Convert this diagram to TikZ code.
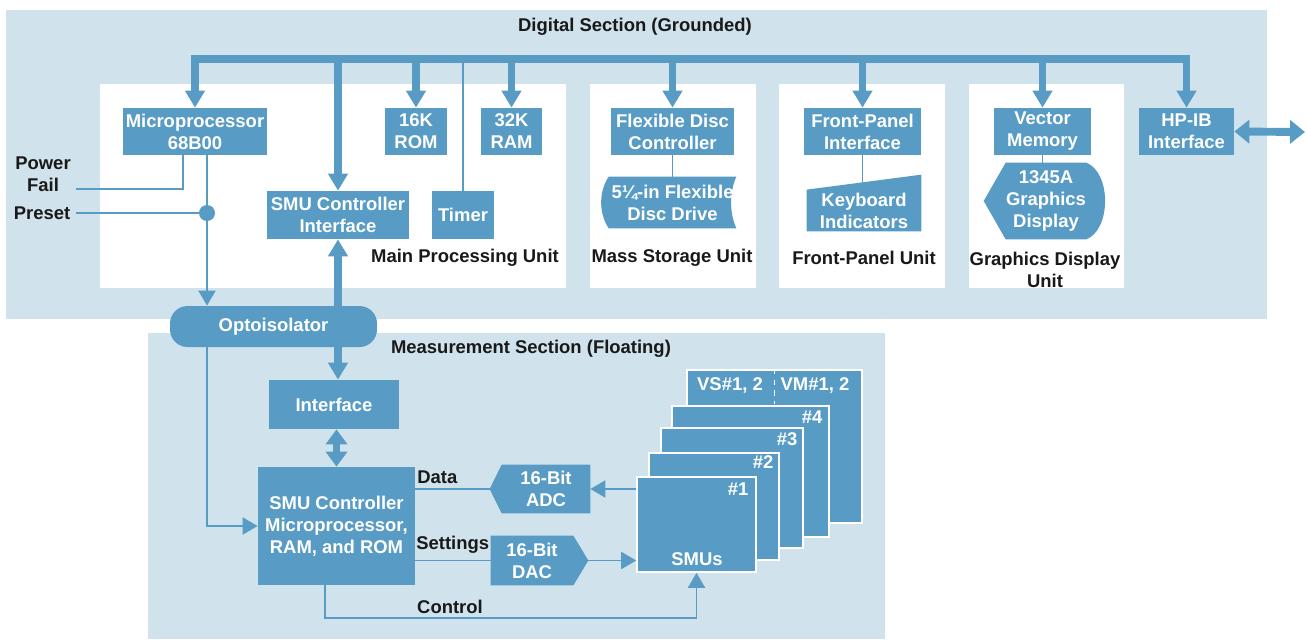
\documentclass[tikz,border=0pt]{standalone}
\usepackage{fontspec}
\setmainfont{Liberation Sans}
\usetikzlibrary{arrows.meta}
\definecolor{boxblue}{RGB}{88,156,197}
\definecolor{bglight}{RGB}{208,226,236}
\definecolor{ink}{RGB}{25,25,25}
\pgfdeclarelayer{back}
\pgfdeclarelayer{lines}
\pgfdeclarelayer{shapes}
\pgfsetlayers{back,lines,shapes,main}
\tikzset{
  sz/.style 2 args={minimum width=#1*0.02cm, minimum height=#2*0.02cm},
  box/.style={fill=boxblue, text=white, align=center, inner sep=0pt},
  wtext/.style={text=white, align=center, inner sep=0pt},
  lbl/.style={text=ink, align=center, inner sep=0pt},
  smubox/.style={fill=boxblue, draw=white, line width=0.9pt, inner sep=0pt},
  bushead/.tip={Triangle[width=0.38cm,length=0.34cm]},
  wirehead/.tip={Triangle[width=0.34cm,length=0.3cm]},
  dblhead/.tip={Triangle[width=0.46cm,length=0.3cm]},
  bus/.style={draw=boxblue, line width=4.5pt},
  busarrow/.style={bus, -{bushead}},
  wire/.style={draw=boxblue, line width=1.1pt},
  wirearrow/.style={wire, -{wirehead}},
}
\begin{document}
\begin{tikzpicture}[x=0.02cm,y=-0.02cm, font=\fontsize{10.5}{12.5}\selectfont\bfseries]
\useasboundingbox (0,0) rectangle (1307,639);
\begin{pgfonlayer}{back}
  \fill[bglight] (6,10) rectangle (1267,319);
  \fill[bglight] (148,333) rectangle (885,639);
  \fill[white] (100,84) rectangle (566,288);
  \fill[white] (590,84) rectangle (756,288);
  \fill[white] (779,84) rectangle (945,288);
  \fill[white] (969,84) rectangle (1124,288);
\end{pgfonlayer}

% titles
\node[lbl] (dtitle) at (635,27) {Digital Section (Grounded)};
\node[lbl] (mtitle) at (531,349) {Measurement Section (Floating)};

% digital section boxes
\node[box, sz={144}{47}] (micro) at (195,131.5) {Microprocessor\\68B00};
\node[box, sz={62}{47}] (rom) at (416,131.5) {16K\\ROM};
\node[box, sz={61}{47}] (ram) at (511.5,131.5) {32K\\RAM};
\node[box, sz={142}{48}] (smuci) at (338,215) {SMU Controller\\Interface};
\node[box, sz={62}{48}] (timer) at (463,215) {Timer};
\node[box, sz={123}{47}] (fdc) at (672.5,131.5) {Flexible Disc\\Controller};
\node[wtext, sz={127}{51}] (drive) at (672.5,202.5) {5¼-in Flexible\\Disc Drive};
\node[box, sz={117}{47}] (fpi) at (862.5,131.5) {Front-Panel\\Interface};
\node[wtext, sz={114}{41}] (kbd) at (864,210.5) {Keyboard\\Indicators};
\node[box, sz={97}{47}] (vm) at (1042.5,131.5) {Vector\\Memory};
\node[wtext, sz={74}{76}] (disp) at (1046,201) {1345A\\Graphics\\Display};
\node[box, sz={95}{47}] (hpib) at (1186.5,131.5) {HP-IB\\Interface};

\node[lbl] (mpu) at (465,258) {Main Processing Unit};
\node[lbl] (msu) at (672,258) {Mass Storage Unit};
\node[lbl] (fpu) at (864,258) {Front-Panel Unit};
\node[lbl] (gdu) at (1045,270) {Graphics Display\\Unit};

\node[lbl] (pf) at (43,174) {Power\\Fail};
\node[lbl] (preset) at (42,213) {Preset};
\node[circle, fill=boxblue, inner sep=0pt, minimum size=16*0.02cm] (dot) at (207,213) {};
\coordinate (pfe) at (76,189);
\coordinate (busL) at (195,59);
\coordinate (ext) at (1305,132);

\node[box, sz={207}{41}, rounded corners=0.35cm] (opto) at (273.5,326.5) {Optoisolator};

% measurement section
\node[box, sz={130}{49}] (iface) at (334,404.5) {Interface};
\node[box, sz={157}{118}] (smuc) at (336.5,526) {SMU Controller\\Microprocessor,\\RAM, and ROM};
\node[wtext, sz={88}{48}] (adc) at (546,489) {16-Bit\\ADC};
\node[wtext, sz={82}{49}] (dac) at (532,560.5) {16-Bit\\DAC};
\node[lbl, anchor=west] (data) at (417,477) {Data};
\node[lbl, anchor=west] (settings) at (416,545) {Settings};
\node[lbl] (control) at (450,607) {Control};
\coordinate (ctl) at (325,618);

\node[smubox, sz={175}{153}] (vsvm) at (774.5,446.5) {};
\node[smubox, sz={157}{131}] (s4) at (750.5,471.5) {};
\node[smubox, sz={142}{120}] (s3) at (732,488) {};
\node[smubox, sz={130}{107}] (s2) at (714,506.5) {};
\node[smubox, sz={119}{95}] (s1) at (696.5,524.5) {};
\node[wtext] (vslbl) at (730,385) {VS\#1, 2};
\node[wtext] (vmlbl) at (815,385) {VM\#1, 2};
\draw[white, dashed, line width=0.8pt] (vsvm.north) -- ([yshift=-0.7cm]vsvm.north);
\node[wtext, anchor=east] (n4) at ([xshift=-0.14cm,yshift=-0.24cm]s4.north east) {\#4};
\node[wtext, anchor=east] (n3) at ([xshift=-0.12cm,yshift=-0.24cm]s3.north east) {\#3};
\node[wtext, anchor=east] (n2) at ([xshift=-0.12cm,yshift=-0.2cm]s2.north east) {\#2};
\node[wtext, anchor=east] (n1) at ([xshift=-0.16cm,yshift=-0.26cm]s1.north east) {\#1};
\node[wtext] (smus) at (697,559) {SMUs};

% special shapes
\begin{pgfonlayer}{shapes}
  \fill[boxblue] (drive.north west) -- (drive.north east)
     .. controls +(-0.14cm,-0.3cm) and +(-0.14cm,0.3cm) .. (drive.south east)
     -- (drive.south west)
     .. controls +(-0.2cm,0.3cm) and +(-0.2cm,-0.3cm) .. (drive.north west) -- cycle;
  \fill[boxblue] (kbd.south west) -- (kbd.north west) -- ([yshift=0.3cm]kbd.north east) -- (kbd.south east) -- cycle;
  \fill[boxblue] (disp.north west) -- (disp.north east)
     .. controls +(0.5cm,-0.2cm) and +(0.5cm,0.2cm) .. (disp.south east)
     -- (disp.south west) -- ([xshift=-0.44cm]disp.west) -- cycle;
  \fill[boxblue] (adc.north west) -- (adc.north east) -- (adc.south east) -- (adc.south west) -- ([xshift=-0.24cm]adc.west) -- cycle;
  \fill[boxblue] (dac.north west) -- (dac.north east) -- ([xshift=0.3cm]dac.east) -- (dac.south east) -- (dac.south west) -- cycle;
\end{pgfonlayer}

% connectors
\begin{pgfonlayer}{lines}
  \draw[bus, line join=miter, {bushead}-{bushead}] (micro.north) -- (micro.north |- busL) -- (hpib.north |- busL) -- (hpib.north);
  \foreach \n in {rom, ram, smuci, fdc, fpi, vm}
    \draw[busarrow] (\n.north |- busL) -- (\n.north);
  \draw[wire] (timer.north |- busL) -- (timer.north);
  \draw[bus, {dblhead}-{dblhead}] (hpib.east) -- (ext);
  \draw[wire] (fdc.south) -- (fdc.south |- drive.north);
  \draw[wire] (fpi.south) -- (fpi.south |- kbd.center);
  \draw[wire] (vm.south) -- (vm.south |- disp.north);

  \draw[wire] (pfe) -| ([xshift=-0.24cm]micro.south);
  \draw[wire] ([xshift=0.1cm]preset.east) -- (dot);
  \draw[wirearrow] (micro.south -| dot) -- (opto.north -| dot);
  \draw[busarrow] (smuci.south |- opto.center) -- (smuci.south);
  \draw[busarrow] (smuci.south |- opto.south) -- (smuci.south |- iface.north);
  \draw[bus, {Triangle[width=0.42cm,length=0.3cm]}-{Triangle[width=0.42cm,length=0.3cm]}] (smuc.north |- iface.south) -- (smuc.north);
  \draw[wirearrow] (opto.south -| dot) |- (smuc.west);

  \draw[wire] (smuc.east |- adc.west) -- ([xshift=-0.24cm]adc.west);
  \draw[wire] (smuc.east |- dac.west) -- (dac.west);
  \draw[wirearrow] (s1.west |- adc.east) -- (adc.east);
  \draw[wirearrow] ([xshift=0.3cm]dac.east) -- (s1.west |- dac.east);
  \draw[wirearrow] (smuc.south -| ctl) -- (ctl) -| (s1.south);
\end{pgfonlayer}
\end{tikzpicture}
\end{document}
